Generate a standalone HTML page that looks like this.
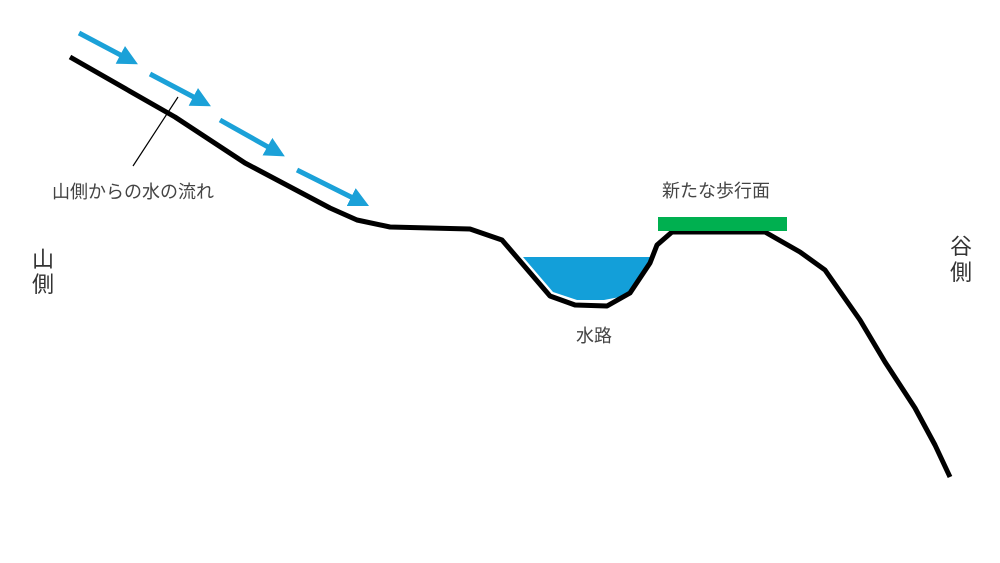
<!DOCTYPE html>
<html><head><meta charset="utf-8"><style>
body{margin:0;background:#fff;}
svg{display:block;font-family:"Liberation Sans","Noto Sans CJK JP",sans-serif;}
</style></head><body>
<svg width="1000" height="563" viewBox="0 0 1000 563">
<defs>
<marker id="ah" markerWidth="4" markerHeight="4" refX="2.2" refY="2" orient="auto" markerUnits="strokeWidth">
<path d="M0,0 L4,2 L0,4 z" fill="#1ba1d8"/>
</marker>
</defs>
<polygon points="523,257 650,257 640,282 625,296 604,300 577,300 553,292" fill="#139fd9"/>
<polyline points="70,57 175,117 245,163 330,208 357,220 390,227 470,229 502,240 550,296 575,305 607,306 630,293 650,263 657,245 672,232 765,232 800,252 825,270 860,320 885,362 915,408 935,445 950,477" fill="none" stroke="#000" stroke-width="5" stroke-linejoin="round"/>
<rect x="658" y="217" width="129" height="14" fill="#00b050"/>
<g stroke="#1ba1d8" stroke-width="5" marker-end="url(#ah)">
<line x1="79" y1="33" x2="130" y2="60"/>
<line x1="150" y1="74" x2="203" y2="102"/>
<line x1="220" y1="120" x2="277" y2="152"/>
<line x1="297" y1="170" x2="361" y2="202"/>
</g>
<line x1="178" y1="97" x2="133" y2="166" stroke="#000" stroke-width="1.2"/>
<g fill="#444" font-size="18">
<text x="52" y="198">山側からの水の流れ</text>
<text x="662" y="197">新たな歩行面</text>
<text x="576" y="342">水路</text>
</g>
<g fill="#333" font-size="22">
<text x="32" y="267">山</text>
<text x="32" y="292">側</text>
<text x="950" y="254">谷</text>
<text x="950" y="280">側</text>
</g>
</svg>
</body></html>
